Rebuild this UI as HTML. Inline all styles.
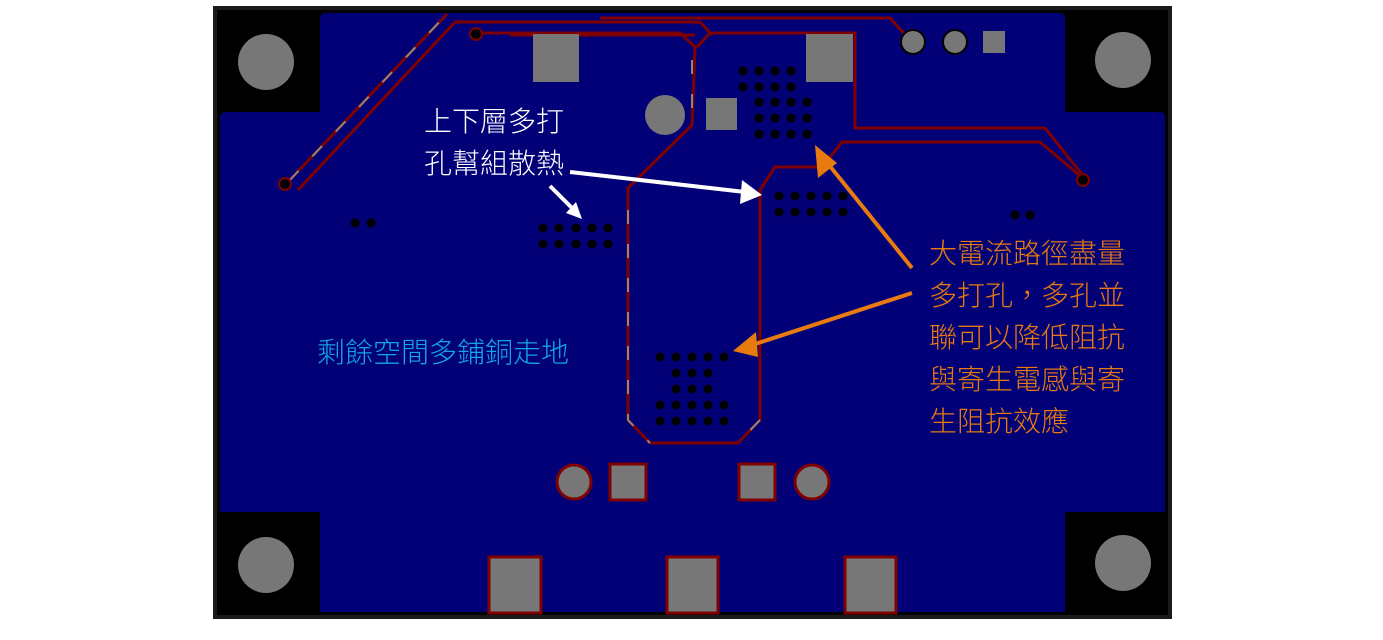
<!DOCTYPE html>
<html><head><meta charset="utf-8"><style>
html,body{margin:0;padding:0;background:#fff;width:1383px;height:640px;overflow:hidden}
text{font-family:"Liberation Sans","Noto Sans CJK TC",sans-serif}
</style></head><body>
<svg width="1383" height="640" viewBox="0 0 1383 640" xmlns="http://www.w3.org/2000/svg">
<rect x="213" y="6" width="959" height="613" fill="#1a1a1a"/>
<rect x="217" y="10" width="951" height="605" fill="#000"/>
<path d="M326,13 H1059 Q1065,13 1065,19 V112 H1159 Q1165,112 1165,118 V512 H1065 V612 H320 V512 H220 V118 Q220,112 226,112 H320 V19 Q320,13 326,13Z" fill="#020076"/>
<g fill="none" stroke="#800000" stroke-width="3">
<path d="M285,185 L447,14"/>
<path d="M298,190 L455,22 L700,22 L712,35"/>
<path d="M476,33 L680,33 L695,47 L692,125 L628,188 V420 L650,443 H738 L760,420 V190 L775,167 H822 L842,142 H1040 L1085,180"/>
<path d="M510,35 L695,35"/>
<path d="M697,47 L710,33 H855 V128 H1045 L1085,178"/>
<path d="M600,18 L890,18 L910,40"/>
</g>
<g fill="none" stroke="#888" stroke-width="2" stroke-dasharray="14 20">
<path d="M289,181 L445,16"/><path d="M628,210 V420 L650,443"/><path d="M760,420 L738,443"/><path d="M692,60 V120"/>
</g>
<circle cx="285" cy="184" r="6" fill="#000" stroke="#800000" stroke-width="2"/>
<circle cx="476" cy="34" r="6" fill="#000" stroke="#800000" stroke-width="2"/>
<circle cx="1083" cy="180" r="6" fill="#000" stroke="#800000" stroke-width="2"/>
<g fill="#777">
<circle cx="266" cy="62" r="28"/><circle cx="1123" cy="60" r="28"/>
<circle cx="266" cy="565" r="28"/><circle cx="1123" cy="563" r="28"/>
<rect x="533" y="34" width="46" height="48"/><rect x="806" y="34" width="47" height="48"/>
<rect x="706" y="98" width="31" height="32"/><circle cx="665" cy="115" r="20"/>
<rect x="983" y="31" width="22" height="22"/>
</g>
<circle cx="913" cy="42" r="12" fill="#777" stroke="#000" stroke-width="2"/>
<circle cx="955" cy="42" r="12" fill="#777" stroke="#000" stroke-width="2"/>
<g fill="#777" stroke="#800000" stroke-width="3">
<circle cx="574" cy="482" r="17"/><circle cx="812" cy="482" r="17"/>
<rect x="610" y="464" width="36" height="36"/><rect x="739" y="464" width="36" height="36"/>
<rect x="489" y="557" width="52" height="56"/><rect x="667" y="557" width="51" height="56"/><rect x="845" y="557" width="51" height="56"/>
</g>
<g fill="#000">
<circle cx="355" cy="223" r="4.5"/><circle cx="371" cy="223" r="4.5"/>
<circle cx="1015" cy="215" r="4.5"/><circle cx="1030" cy="215" r="4.5"/>
<g id="ra"><circle cx="543" cy="228" r="4.5"/><circle cx="559" cy="228" r="4.5"/><circle cx="576" cy="228" r="4.5"/><circle cx="592" cy="228" r="4.5"/><circle cx="608" cy="228" r="4.5"/></g>
<use href="#ra" y="16"/>
<g id="rb"><circle cx="743" cy="71" r="4.5"/><circle cx="759" cy="71" r="4.5"/><circle cx="775" cy="71" r="4.5"/><circle cx="791" cy="71" r="4.5"/></g>
<use href="#rb" y="16"/>
<g id="rb2"><circle cx="759" cy="102" r="4.5"/><circle cx="775" cy="102" r="4.5"/><circle cx="791" cy="102" r="4.5"/><circle cx="807" cy="102" r="4.5"/></g>
<use href="#rb2" y="16"/><use href="#rb2" y="32"/>
<g id="rc"><circle cx="779" cy="196" r="4.5"/><circle cx="795" cy="196" r="4.5"/><circle cx="811" cy="196" r="4.5"/><circle cx="827" cy="196" r="4.5"/><circle cx="843" cy="196" r="4.5"/></g>
<use href="#rc" y="16"/>
<g id="rd"><circle cx="660" cy="357" r="4.5"/><circle cx="676" cy="357" r="4.5"/><circle cx="692" cy="357" r="4.5"/><circle cx="708" cy="357" r="4.5"/><circle cx="724" cy="357" r="4.5"/></g>
<circle cx="676" cy="373" r="4.5"/><circle cx="692" cy="373" r="4.5"/><circle cx="708" cy="373" r="4.5"/>
<circle cx="676" cy="389" r="4.5"/><circle cx="692" cy="389" r="4.5"/><circle cx="708" cy="389" r="4.5"/>
<use href="#rd" y="48"/><use href="#rd" y="64"/>
</g>
<g stroke="#fff" stroke-width="4" fill="#fff">
<line x1="570" y1="172" x2="745" y2="192"/><polygon points="762,195 742,180 740,204" stroke="none"/>
<line x1="550" y1="186" x2="572" y2="208"/><polygon points="582,219 566,213 576,202" stroke="none"/>
</g>
<g stroke="#e87a10" stroke-width="4" fill="#e87a10">
<line x1="912" y1="268" x2="825" y2="160"/><polygon points="815,145 837,163 818,178" stroke="none"/>
<line x1="912" y1="293" x2="752" y2="345"/><polygon points="733,351 756,332 758,357" stroke="none"/>
</g>
<g fill="#fff" font-size="28" font-weight="300"><text x="424" y="131">上下層多打</text><text x="424" y="173">孔幫組散熱</text></g>
<text x="317" y="362" fill="#10a8e0" font-size="28" font-weight="300">剩餘空間多鋪銅走地</text>
<g fill="#e87a10" font-size="28" font-weight="300">
<text x="929" y="263">大電流路徑盡量</text>
<text x="929" y="305">多打孔，多孔並</text>
<text x="929" y="347">聯可以降低阻抗</text>
<text x="929" y="389">與寄生電感與寄</text>
<text x="929" y="431">生阻抗效應</text>
</g>
</svg>
</body></html>
